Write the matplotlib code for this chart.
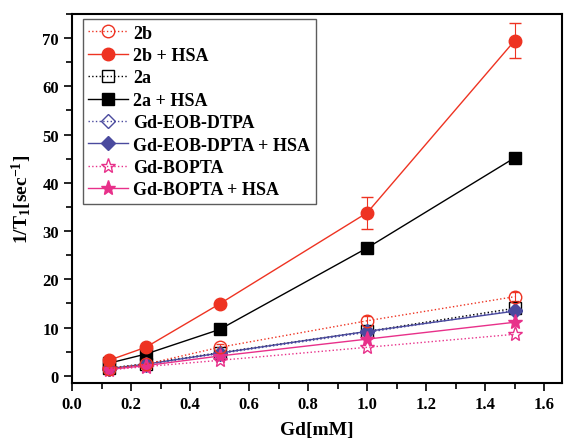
import matplotlib
matplotlib.use("Agg")
import matplotlib.pyplot as plt
from matplotlib.ticker import MultipleLocator

plt.rcParams['font.family'] = ['Liberation Serif', 'DejaVu Serif']
plt.rcParams['font.weight'] = 'bold'
plt.rcParams['mathtext.fontset'] = 'custom'
plt.rcParams['mathtext.rm'] = 'Liberation Serif:bold'
plt.rcParams['mathtext.bf'] = 'Liberation Serif:bold'
plt.rcParams['mathtext.it'] = 'Liberation Serif:bold'

x = [0.125, 0.25, 0.5, 1.0, 1.5]
y_2b = [1.5, 2.4, 5.9, 11.4, 16.4]
y_2b_hsa = [3.2, 5.9, 14.9, 33.8, 69.5]
err_2b_hsa = [0, 0, 0, 3.3, 3.6]
err_2b = [0.3, 0.3, 0.6, 1.0, 1.0]
y_2a = [1.6, 2.5, 4.8, 9.2, 14.0]
y_2a_hsa = [2.6, 4.5, 9.6, 26.5, 45.2]
y_eob = [1.4, 2.3, 4.6, 9.0, 13.6]
y_eob_hsa = [1.5, 2.4, 4.7, 9.2, 13.4]
y_bopta = [1.2, 1.9, 3.2, 5.9, 8.6]
y_bopta_hsa = [1.3, 2.1, 4.1, 7.6, 11.1]

red = '#EE3322'
blue = '#4A4A9E'
pink = '#E8308A'

fig = plt.figure(figsize=(5.65, 4.39), dpi=100)
ax = fig.add_axes([72/565, 1-384/439, (562-72)/565, (384-15)/439])

ms = 9
handles = []
h = ax.errorbar(x, y_2b, yerr=err_2b, color=red, ls=':', lw=1, marker='o', ms=ms,
                mfc='none', mec=red, capsize=3, elinewidth=0.8)
handles.append((h[0], '2b'))
h = ax.errorbar(x, y_2b_hsa, yerr=err_2b_hsa, color=red, ls='-', lw=1, marker='o', ms=ms,
                mfc=red, mec=red, capsize=4, elinewidth=0.8)
handles.append((h[0], '2b + HSA'))
h, = ax.plot(x, y_2a, color='black', ls=':', lw=1, marker='s', ms=8, mfc='none')
handles.append((h, '2a'))
h, = ax.plot(x, y_2a_hsa, color='black', ls='-', lw=1, marker='s', ms=8)
handles.append((h, '2a + HSA'))
h, = ax.plot(x, y_eob, color=blue, ls=':', lw=1, marker='D', ms=7, mfc='none')
handles.append((h, 'Gd-EOB-DTPA'))
h, = ax.plot(x, y_eob_hsa, color=blue, ls='-', lw=1, marker='D', ms=7)
handles.append((h, 'Gd-EOB-DPTA + HSA'))
h, = ax.plot(x, y_bopta, color=pink, ls=':', lw=1, marker='*', ms=11, mfc='none')
handles.append((h, 'Gd-BOPTA'))
h, = ax.plot(x, y_bopta_hsa, color=pink, ls='-', lw=1, marker='*', ms=11)
handles.append((h, 'Gd-BOPTA + HSA'))

ax.set_xlim(0, 1.66)
ax.set_ylim(-1.5, 75)
ax.xaxis.set_major_locator(MultipleLocator(0.2))
ax.xaxis.set_minor_locator(MultipleLocator(0.1))
ax.yaxis.set_major_locator(MultipleLocator(10))
ax.yaxis.set_minor_locator(MultipleLocator(5))
ax.tick_params(which='major', direction='out', length=6, width=1.2, labelsize=12)
ax.tick_params(which='minor', direction='out', length=4, width=1.2)
ax.tick_params(top=False, right=False)
for s in ax.spines.values():
    s.set_linewidth(1.5)
for lab in ax.get_xticklabels() + ax.get_yticklabels():
    lab.set_fontweight('bold')

ax.set_xlabel('Gd[mM]', fontsize=14, fontweight='bold', labelpad=6)
ax.set_ylabel(r'1/T$_{1}$[sec$^{-1}$]', fontsize=14, fontweight='bold', labelpad=6)

leg = ax.legend([a for a, b in handles], [b for a, b in handles],
                loc='upper left', bbox_to_anchor=(0.022, 0.986), borderaxespad=0,
                fontsize=13, frameon=True, fancybox=False, edgecolor='#333333',
                handlelength=2.2, labelspacing=0.3, borderpad=0.3, handletextpad=0.3)
leg.get_frame().set_linewidth(1.0)
for t in leg.get_texts():
    t.set_fontweight('bold')

fig.savefig('out.png', dpi=100)
